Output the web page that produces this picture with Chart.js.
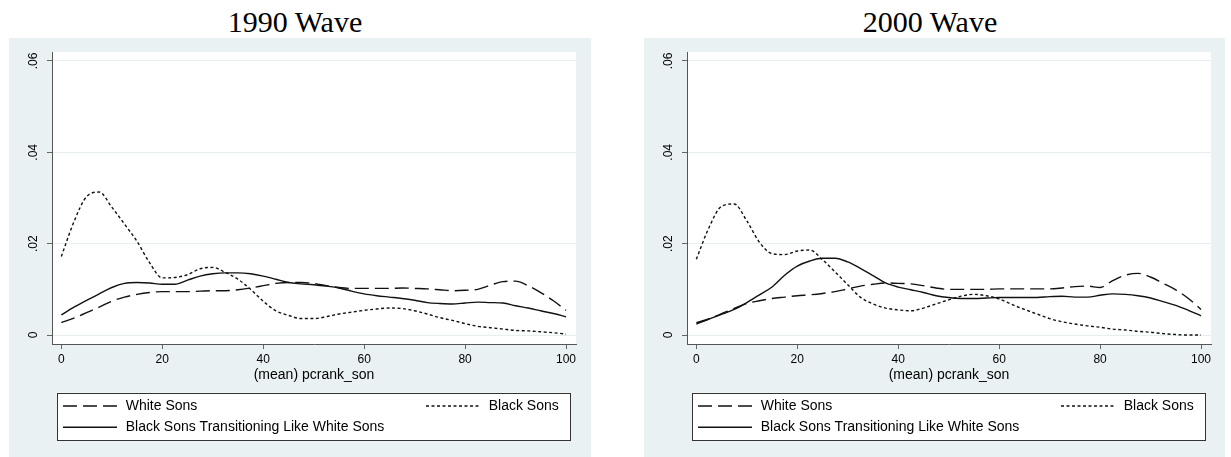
<!DOCTYPE html>
<html><head><meta charset="utf-8">
<script src="https://cdn.jsdelivr.net/npm/chart.js@4.4.0/dist/chart.umd.min.js"></script>
<style>
html,body{margin:0;padding:0;background:#fff;width:1231px;height:457px;overflow:hidden;}
.title{position:absolute;top:7px;height:30px;line-height:30px;width:220px;text-align:center;font-family:"Liberation Serif","Times New Roman",serif;font-size:30px;color:#000;white-space:nowrap;}
.panel{position:absolute;top:38px;height:419px;}
</style></head><body>
<div class="title" style="left:185px">1990 Wave</div>
<div class="title" style="left:820px">2000 Wave</div>
<div class="panel" style="left:9px;width:582px"><canvas id="c1"></canvas></div>
<div class="panel" style="left:644px;width:581px"><canvas id="c2"></canvas></div>
<script>
// x positions (son's percentile rank)
const rank = [0,2.5,5,7.5,10,12.5,15,17.5,20,22.5,25,27.5,30,32.5,35,37.5,40,42.5,45,47.5,50,52.5,55,57.5,60,62.5,65,67.5,70,72.5,75,77.5,80,82.5,85,87.5,90,92.5,95,97.5,100];
const xTicks = [0,20,40,60,80,100];
const yTicks = [0,0.02,0.04,0.06];
const seriesLabels = ["White Sons","Black Sons","Black Sons Transitioning Like White Sons"];

// 1990 wave
const white1990 = [.0027,.0037,.0049,.0061,.0074,.0083,.0089,.0093,.0095,.0095,.0095,.0096,.0097,.0097,.0099,.0103,.0108,.0113,.0115,.0115,.0113,.0108,.0104,.0102,.0102,.0102,.0102,.0103,.0102,.0101,.0099,.0097,.0098,.0100,.0109,.0117,.0118,.0108,.0093,.0075,.0054];
const black1990 = [.0172,.0248,.0303,.0313,.0280,.0243,.0205,.0158,.0125,.0126,.0132,.0145,.0148,.0137,.0122,.0100,.0074,.0053,.0043,.0036,.0036,.0040,.0046,.0050,.0054,.0057,.0059,.0058,.0053,.0046,.0038,.0032,.0025,.0019,.0016,.0013,.0010,.0009,.0007,.0005,.0002];
const trans1990 = [.0044,.0061,.0076,.0090,.0104,.0113,.0115,.0114,.0111,.0111,.0120,.0129,.0134,.0136,.0136,.0134,.0129,.0122,.0115,.0112,.0110,.0107,.0103,.0096,.0090,.0086,.0083,.0080,.0076,.0071,.0069,.0068,.0070,.0072,.0071,.0070,.0064,.0059,.0053,.0047,.0040];

// 2000 wave
const white2000 = [.0024,.0035,.0047,.0058,.0069,.0075,.0080,.0083,.0086,.0088,.0091,.0095,.0101,.0107,.0111,.0114,.0113,.0112,.0108,.0103,.0100,.0100,.0100,.0100,.0101,.0101,.0101,.0101,.0101,.0103,.0106,.0107,.0104,.0119,.0131,.0135,.0127,.0113,.0099,.0080,.0056];
const black2000 = [.0166,.0235,.0282,.0287,.0250,.0203,.0178,.0176,.0184,.0186,.0165,.0138,.0110,.0083,.0068,.0059,.0055,.0053,.0059,.0068,.0077,.0085,.0089,.0086,.0079,.0067,.0056,.0046,.0036,.0029,.0024,.0020,.0017,.0013,.0011,.0008,.0006,.0003,.0001,.0000,.0000];
const trans2000 = [.0027,.0035,.0045,.0056,.0071,.0088,.0105,.0131,.0151,.0162,.0168,.0168,.0160,.0146,.0130,.0114,.0105,.0099,.0093,.0086,.0082,.0080,.0080,.0081,.0082,.0082,.0082,.0082,.0084,.0085,.0083,.0083,.0087,.0090,.0089,.0086,.0081,.0073,.0065,.0054,.0042];

const BG = '#eaf1f3';
const FONT = '"Liberation Sans", Arial, Helvetica, sans-serif';
Chart.defaults.font.family = FONT;
Chart.defaults.color = '#000';

const styles = [
  {borderDash:[14,6]},
  {borderDash:[3,2.5]},
  {borderDash:[]}
];

const bgPlugin = {
  id:'stataBg',
  beforeDraw(chart){
    const {ctx, chartArea:a, width, height} = chart;
    ctx.save();
    ctx.fillStyle = BG;
    ctx.fillRect(0,0,width,height);
    ctx.fillStyle = '#fff';
    ctx.fillRect(a.left, a.top, a.right-a.left, a.bottom-a.top);
    ctx.restore();
  }
};

const legendPlugin = {
  id:'stataLegend',
  afterDraw(chart){
    const {ctx, chartArea:a} = chart;
    const bx = a.left + 5.3, bw = (a.right - 5.7) - bx;
    const by = a.bottom + 48.7, bh = 47.3;
    ctx.save();
    ctx.fillStyle = '#fff';
    ctx.fillRect(bx, by, bw, bh);
    ctx.strokeStyle = '#333';
    ctx.lineWidth = 1;
    ctx.strokeRect(Math.round(bx)+0.5, Math.round(by)+0.5, Math.round(bw), Math.round(bh));
    const slots = [
      {x: bx + 5.7, y: by + 13.3},
      {x: bx + 368.7, y: by + 13.3},
      {x: bx + 5.7, y: by + 34.6}
    ];
    ctx.font = '14px ' + FONT;
    ctx.textBaseline = 'middle';
    ctx.textAlign = 'left';
    chart.data.datasets.forEach((ds, i) => {
      const s = slots[i];
      ctx.strokeStyle = ds.borderColor;
      ctx.lineWidth = ds.borderWidth;
      ctx.setLineDash(ds.borderDash || []);
      ctx.beginPath();
      ctx.moveTo(s.x, s.y);
      ctx.lineTo(s.x + 54, s.y);
      ctx.stroke();
      ctx.setLineDash([]);
      ctx.fillStyle = '#000';
      ctx.fillText(ds.label, s.x + 62.7, s.y);
    });
    ctx.restore();
  }
};

function makeChart(id, seriesList, rightPad){
  const datasets = seriesList.map((vals, i) => ({
    label: seriesLabels[i],
    data: rank.map((x, j) => ({x: x, y: vals[j]})),
    borderColor: '#111',
    borderWidth: 1.4,
    borderDash: styles[i].borderDash,
    pointRadius: 0,
    fill: false,
    cubicInterpolationMode: 'monotone'
  }));
  return new Chart(document.getElementById(id), {
    type: 'line',
    data: {datasets},
    plugins: [bgPlugin, legendPlugin],
    options: {
      responsive: true,
      maintainAspectRatio: false,
      devicePixelRatio: 1,
      animation: false,
      layout: {padding: {left: 0, right: rightPad, top: 14, bottom: 68}},
      plugins: {legend: {display: false}, tooltip: {enabled: false}, title: {display: false}},
      scales: {
        x: {
          type: 'linear',
          min: -1.85, max: 101.98,
          afterBuildTicks: s => { s.ticks = xTicks.map(v => ({value: v})); },
          afterFit: s => { s.height = 45; },
          grid: {drawOnChartArea: false, drawTicks: true, tickLength: 5, tickColor: '#666'},
          border: {display: true, color: '#555', width: 1},
          ticks: {font: {size: 12}, padding: 3, maxRotation: 0, color: '#000', callback: v => String(v)},
          title: {display: true, text: '(mean) pcrank_son', font: {size: 14}, color: '#000', padding: {top: 0, bottom: 5}}
        },
        y: {
          type: 'linear',
          min: -0.00197, max: 0.06197,
          afterBuildTicks: s => { s.ticks = yTicks.map(v => ({value: v})); },
          afterFit: s => { s.width = 43; },
          grid: {color: '#e6eef0', lineWidth: 1, drawTicks: true, tickLength: 5, tickColor: '#666'},
          border: {display: true, color: '#555', width: 1},
          ticks: {font: {size: 12}, padding: 5, minRotation: 90, maxRotation: 90, crossAlign: 'center', color: '#000',
            callback: v => v === 0 ? '0' : v.toFixed(2).replace(/^0/, '')}
        }
      }
    }
  });
}

makeChart('c1', [white1990, black1990, trans1990], 15);
makeChart('c2', [white2000, black2000, trans2000], 14);
</script>
</body></html>
